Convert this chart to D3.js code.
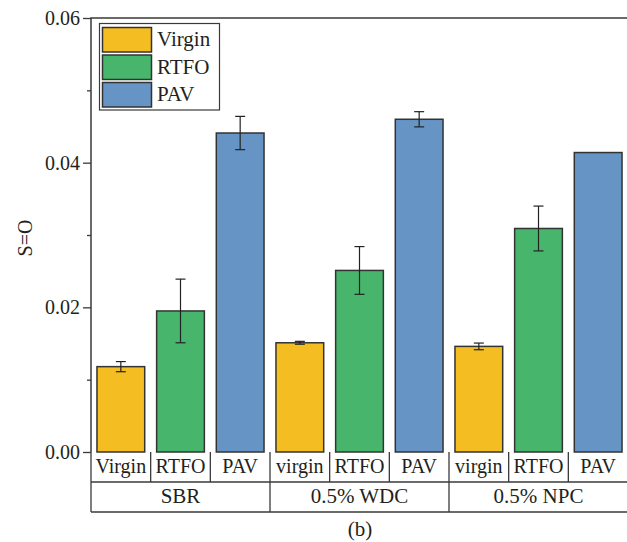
<!DOCTYPE html>
<html><head><meta charset="utf-8">
<script src="https://cdn.jsdelivr.net/npm/d3@7/dist/d3.min.js"></script>
<style>body{margin:0;background:#fff}svg{display:block}text{font-family:"Liberation Serif","Times New Roman",serif;fill:#231f20}</style>
</head><body>
<script>
const groups = ["SBR", "0.5% WDC", "0.5% NPC"];
const seriesNames = ["Virgin", "RTFO", "PAV"];
const subLabels = [["Virgin","RTFO","PAV"],["virgin","RTFO","PAV"],["virgin","RTFO","PAV"]];
const values = [
  [0.0118, 0.0195, 0.0441],
  [0.0151, 0.0251, 0.0460],
  [0.0146, 0.0309, 0.0414]
];
const errors = [
  [0.0007, 0.0044, 0.0023],
  [0.0002, 0.0033, 0.00105],
  [0.00046, 0.0031, 0]
];
const colors = ["#F4BE22", "#48B56C", "#6594C5"];
const yTicks = [0, 0.02, 0.04, 0.06];
const yMinor = [0.01, 0.03, 0.05];

const W = 627, H = 542;
const x0 = 91, x1 = 628, yTop = 18, yBot = 452;
const svg = d3.select("body").append("svg").attr("width", W).attr("height", H);

const y = d3.scaleLinear().domain([0, 0.06]).range([yBot, yTop]);
const slots = [];
groups.forEach((g, gi) => seriesNames.forEach((s, si) => slots.push(gi + "-" + si)));
const x = d3.scaleBand().domain(slots).range([x0, x1]).paddingInner(0.2).paddingOuter(0.1);
const xs = d3.scaleBand().domain(slots).range([x0, x1]);

// frame
svg.append("path").attr("d", `M${x0},${yBot}V${yTop}H${x1}`).attr("fill", "none").attr("stroke", "#3a3a3a").attr("stroke-width", 1.5);

// bars
const data = [];
groups.forEach((g, gi) => seriesNames.forEach((s, si) => data.push({k: gi + "-" + si, gi, si, v: values[gi][si], e: errors[gi][si]})));
svg.selectAll("rect.bar").data(data).enter().append("rect")
  .attr("x", d => x(d.k)).attr("width", x.bandwidth())
  .attr("y", d => y(d.v)).attr("height", d => y(0) - y(d.v))
  .attr("fill", d => colors[d.si]).attr("stroke", "#333").attr("stroke-width", 1.5);

// error bars
const eb = svg.selectAll("g.err").data(data.filter(d => d.e > 0)).enter().append("g").attr("stroke", "#222").attr("stroke-width", 1.2);
eb.append("line").attr("x1", d => x(d.k) + x.bandwidth()/2).attr("x2", d => x(d.k) + x.bandwidth()/2)
  .attr("y1", d => y(d.v + d.e)).attr("y2", d => y(d.v - d.e));
eb.append("line").attr("x1", d => x(d.k) + x.bandwidth()/2 - 5).attr("x2", d => x(d.k) + x.bandwidth()/2 + 5)
  .attr("y1", d => y(d.v + d.e)).attr("y2", d => y(d.v + d.e));
eb.append("line").attr("x1", d => x(d.k) + x.bandwidth()/2 - 5).attr("x2", d => x(d.k) + x.bandwidth()/2 + 5)
  .attr("y1", d => y(d.v - d.e)).attr("y2", d => y(d.v - d.e));

// y axis
const ax = svg.append("g").attr("transform", `translate(${x0},0)`)
  .call(d3.axisLeft(y).tickValues(yTicks).tickFormat(d3.format(".2f")).tickSize(8).tickPadding(3));
ax.select(".domain").remove();
ax.selectAll("line").attr("stroke", "#3a3a3a").attr("stroke-width", 1.3);
ax.selectAll("text").attr("font-size", 20).attr("fill", "#231f20").attr("font-family", "Liberation Serif");
const axm = svg.append("g").attr("transform", `translate(${x0},0)`)
  .call(d3.axisLeft(y).tickValues(yMinor).tickFormat("").tickSize(4));
axm.select(".domain").remove();
axm.selectAll("line").attr("stroke", "#3a3a3a").attr("stroke-width", 1.3);

// y title
svg.append("text").attr("transform", "translate(32,238) rotate(-90)").attr("text-anchor", "middle")
  .attr("font-size", 20).text("S=O");

// category table
const r1 = yBot, r2 = 482, r3 = 512;
const tg = svg.append("g").attr("stroke", "#3a3a3a").attr("stroke-width", 1.3);
tg.append("line").attr("x1", x0).attr("x2", x1).attr("y1", r2).attr("y2", r2);
tg.append("line").attr("x1", x0).attr("x2", x1).attr("y1", r3).attr("y2", r3);
slots.forEach((k, i) => {
  const gx = xs(k);
  const full = i % 3 === 0;
  tg.append("line").attr("x1", gx).attr("x2", gx).attr("y1", r1).attr("y2", full ? r3 : r2);
});
data.forEach(d => {
  svg.append("text").attr("x", xs(d.k) + xs.bandwidth()/2).attr("y", 473).attr("text-anchor", "middle")
    .attr("font-size", 20).text(subLabels[d.gi][d.si]);
});
groups.forEach((g, gi) => {
  const a = xs(gi + "-0"), b = xs(gi + "-2") + xs.bandwidth();
  svg.append("text").attr("x", (a + b)/2).attr("y", 503).attr("text-anchor", "middle").attr("font-size", 21).text(g);
});

// caption
svg.append("text").attr("x", 360).attr("y", 536).attr("text-anchor", "middle").attr("font-size", 21).text("(b)");

// legend
const lg = svg.append("g");
lg.append("rect").attr("x", 99.5).attr("y", 23.5).attr("width", 120).attr("height", 86.5)
  .attr("fill", "#fff").attr("stroke", "#3a3a3a").attr("stroke-width", 1.2);
seriesNames.forEach((s, i) => {
  lg.append("rect").attr("x", 102.5).attr("y", 27.5 + i * 27.5).attr("width", 49).attr("height", 24.5)
    .attr("fill", colors[i]).attr("stroke", "#333").attr("stroke-width", 1.5);
  lg.append("text").attr("x", 157).attr("y", 46 + i * 27.5).attr("font-size", 21).text(s);
});
</script>
</body></html>
